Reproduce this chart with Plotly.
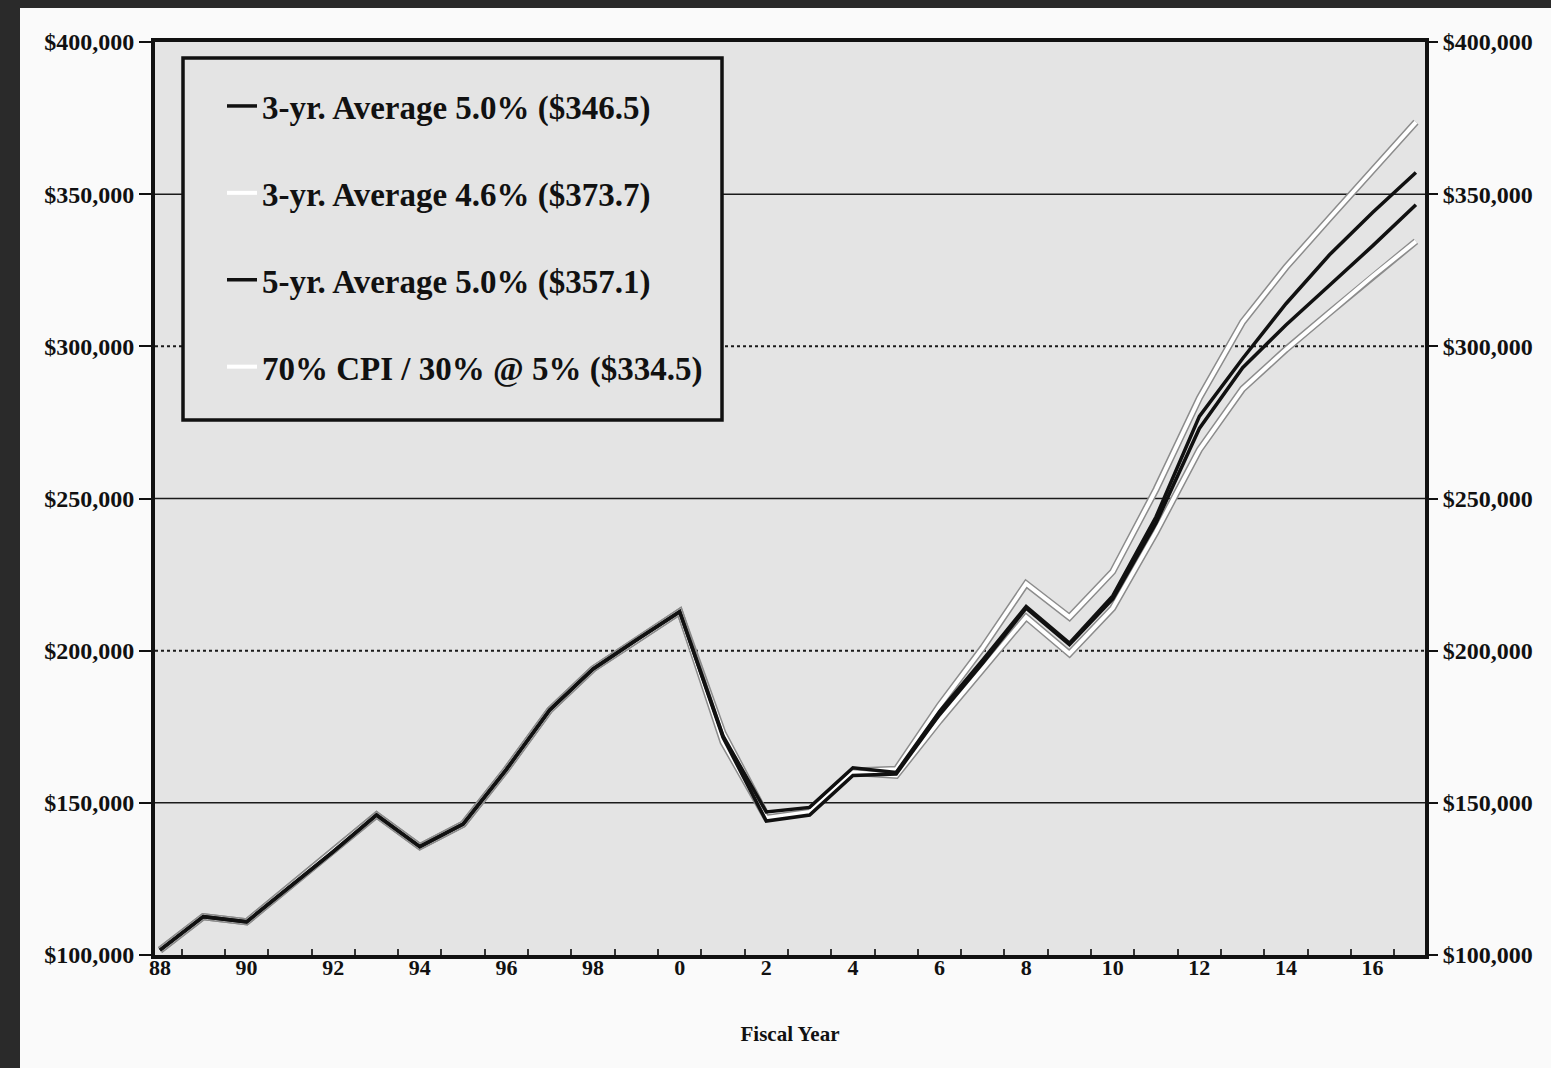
import plotly.graph_objects as go

# Fiscal years 1988-2017
years = list(range(1988, 2018))

# Shared history, FY88-FY00 ($000)
history = [101.6, 112.6, 110.9, 122.5, 134.0, 146.0, 135.6, 143.0, 161.0,
           180.5, 194.0, 203.5, 212.8]

# Projections FY01-FY17 ($000)
avg3_50_proj = [171.5, 144.0, 146.0, 159.0, 159.5, 179.0, 196.0, 214.0, 202.0,
                217.0, 242.0, 273.0, 293.0, 307.0, 320.0, 333.0, 346.5]
avg3_46_proj = [173.0, 146.0, 147.5, 160.5, 161.0, 182.0, 201.0, 222.0, 211.0,
                226.0, 253.0, 283.0, 308.0, 326.0, 342.0, 358.0, 373.7]
avg5_50_proj = [172.0, 147.0, 148.5, 161.5, 160.0, 180.0, 197.0, 214.5, 202.5,
                218.0, 244.0, 277.0, 296.0, 314.0, 330.0, 344.0, 357.1]
cpi_mix_proj = [170.0, 145.0, 147.0, 160.0, 159.0, 177.0, 194.0, 211.0, 199.0,
                214.0, 239.0, 266.0, 286.0, 299.0, 311.0, 323.0, 334.5]

series_names = [
    "3-yr. Average 5.0% ($346.5)",
    "3-yr. Average 4.6% ($373.7)",
    "5-yr. Average 5.0% ($357.1)",
    "70% CPI / 30% @ 5% ($334.5)",
]

tick_years = list(range(1988, 2018, 2))
tick_text = ["88", "90", "92", "94", "96", "98", "0", "2", "4", "6", "8",
             "10", "12", "14", "16"]
y_ticks = [100000, 150000, 200000, 250000, 300000, 350000, 400000]
y_text = ["$100,000", "$150,000", "$200,000", "$250,000", "$300,000",
          "$350,000", "$400,000"]
solid_grid = [150000, 250000, 350000]
dotted_grid = [200000, 300000]

# Figure geometry
W_FIG, H_FIG = 1551, 1068
L, R, T, B = 155, 126, 42, 113
PW = W_FIG - L - R
PH = H_FIG - T - B


def px_x(p):
    return (p - L) / PW


def px_y(p):
    return (H_FIG - B - p) / PH


def dollars(vals):
    return [v * 1000 for v in vals]


FONT = "Liberation Serif, Times New Roman, serif"
PLOT_BG = "#e4e4e4"
INK = "#111111"

fig = go.Figure()

# Light series: white strokes with a soft grey edge
light = [(1, avg3_46_proj), (3, cpi_mix_proj)]
dark = [(0, avg3_50_proj), (2, avg5_50_proj)]

for idx, proj in light:
    ys = dollars(history + proj)
    fig.add_trace(go.Scatter(
        x=years, y=ys, mode="lines", showlegend=False, hoverinfo="skip",
        line=dict(color="#8c8c8c", width=7), legendgroup=f"g{idx}"))
    fig.add_trace(go.Scatter(
        x=years, y=ys, mode="lines", name=series_names[idx],
        legendgroup=f"g{idx}", legendrank=idx + 1,
        line=dict(color="#ffffff", width=4)))

for idx, proj in dark:
    ys = dollars(history + proj)
    fig.add_trace(go.Scatter(
        x=years, y=ys, mode="lines", name=series_names[idx],
        legendgroup=f"g{idx}", legendrank=idx + 1,
        line=dict(color=INK, width=3.5)))

# Right-hand axis mirrors the left scale
fig.add_trace(go.Scatter(x=[years[0]], y=[y_ticks[0]], yaxis="y2",
                         mode="markers", marker=dict(opacity=0),
                         showlegend=False, hoverinfo="skip"))

shapes = []
for g in solid_grid:
    shapes.append(dict(type="line", xref="paper", yref="y", x0=0, x1=1,
                       y0=g, y1=g, layer="below",
                       line=dict(color="#1a1a1a", width=1.5)))
for g in dotted_grid:
    shapes.append(dict(type="line", xref="paper", yref="y", x0=0, x1=1,
                       y0=g, y1=g, layer="below",
                       line=dict(color="#1a1a1a", width=2, dash="dot")))

# Legend frame
shapes.append(dict(type="rect", xref="paper", yref="paper",
                   x0=px_x(183), x1=px_x(722), y0=px_y(420), y1=px_y(58),
                   fillcolor=PLOT_BG, layer="above",
                   line=dict(color=INK, width=3.5)))

# Dark scanner edges along the left and top of the page
shapes.append(dict(type="rect", xref="paper", yref="paper",
                   x0=px_x(0), x1=px_x(20), y0=px_y(H_FIG), y1=px_y(0),
                   fillcolor="#2a2a2a", line=dict(width=0), layer="below"))
shapes.append(dict(type="rect", xref="paper", yref="paper",
                   x0=px_x(0), x1=px_x(W_FIG), y0=px_y(8), y1=px_y(0),
                   fillcolor="#2a2a2a", line=dict(width=0), layer="below"))

tick_font = dict(family=FONT, size=24, color=INK, weight="bold")

fig.update_layout(
    width=W_FIG, height=H_FIG,
    margin=dict(l=L, r=R, t=T, b=B, pad=0),
    paper_bgcolor="#fafafa",
    plot_bgcolor=PLOT_BG,
    shapes=shapes,
    showlegend=True,
    legend=dict(
        x=px_x(222), y=px_y(78), xanchor="left", yanchor="top",
        bgcolor="rgba(0,0,0,0)", borderwidth=0,
        traceorder="grouped", tracegroupgap=41,
        font=dict(family=FONT, size=33, color=INK, weight="bold"),
    ),
    xaxis=dict(
        range=[1987.885, 2017.21],
        tickmode="array", tickvals=tick_years, ticktext=tick_text,
        ticks="", ticklabelstandoff=-10,
        tickfont=dict(family=FONT, size=22, color=INK, weight="bold"),
        showgrid=False, zeroline=False,
        showline=True, linecolor=INK, linewidth=4, mirror=True,
        minor=dict(tick0=1988.5, dtick=1, ticks="inside", ticklen=6,
                   tickcolor="#333333", tickwidth=1.5, showgrid=False),
        title=dict(text="Fiscal Year", standoff=48,
                   font=dict(family=FONT, size=21, color=INK,
                             weight="bold")),
    ),
    yaxis=dict(
        range=[100000, 400000],
        tickmode="array", tickvals=y_ticks, ticktext=y_text,
        ticks="outside", ticklen=12, tickwidth=1.5, tickcolor=INK,
        tickfont=tick_font,
        showgrid=False, zeroline=False,
        showline=True, linecolor=INK, linewidth=4, mirror=True,
    ),
    yaxis2=dict(
        range=[100000, 400000], overlaying="y", side="right",
        tickmode="array", tickvals=y_ticks, ticktext=y_text,
        ticks="outside", ticklen=12, tickwidth=1.5, tickcolor=INK,
        tickfont=tick_font,
        showgrid=False, zeroline=False, showline=False,
    ),
)

fig.write_html("out.html")
